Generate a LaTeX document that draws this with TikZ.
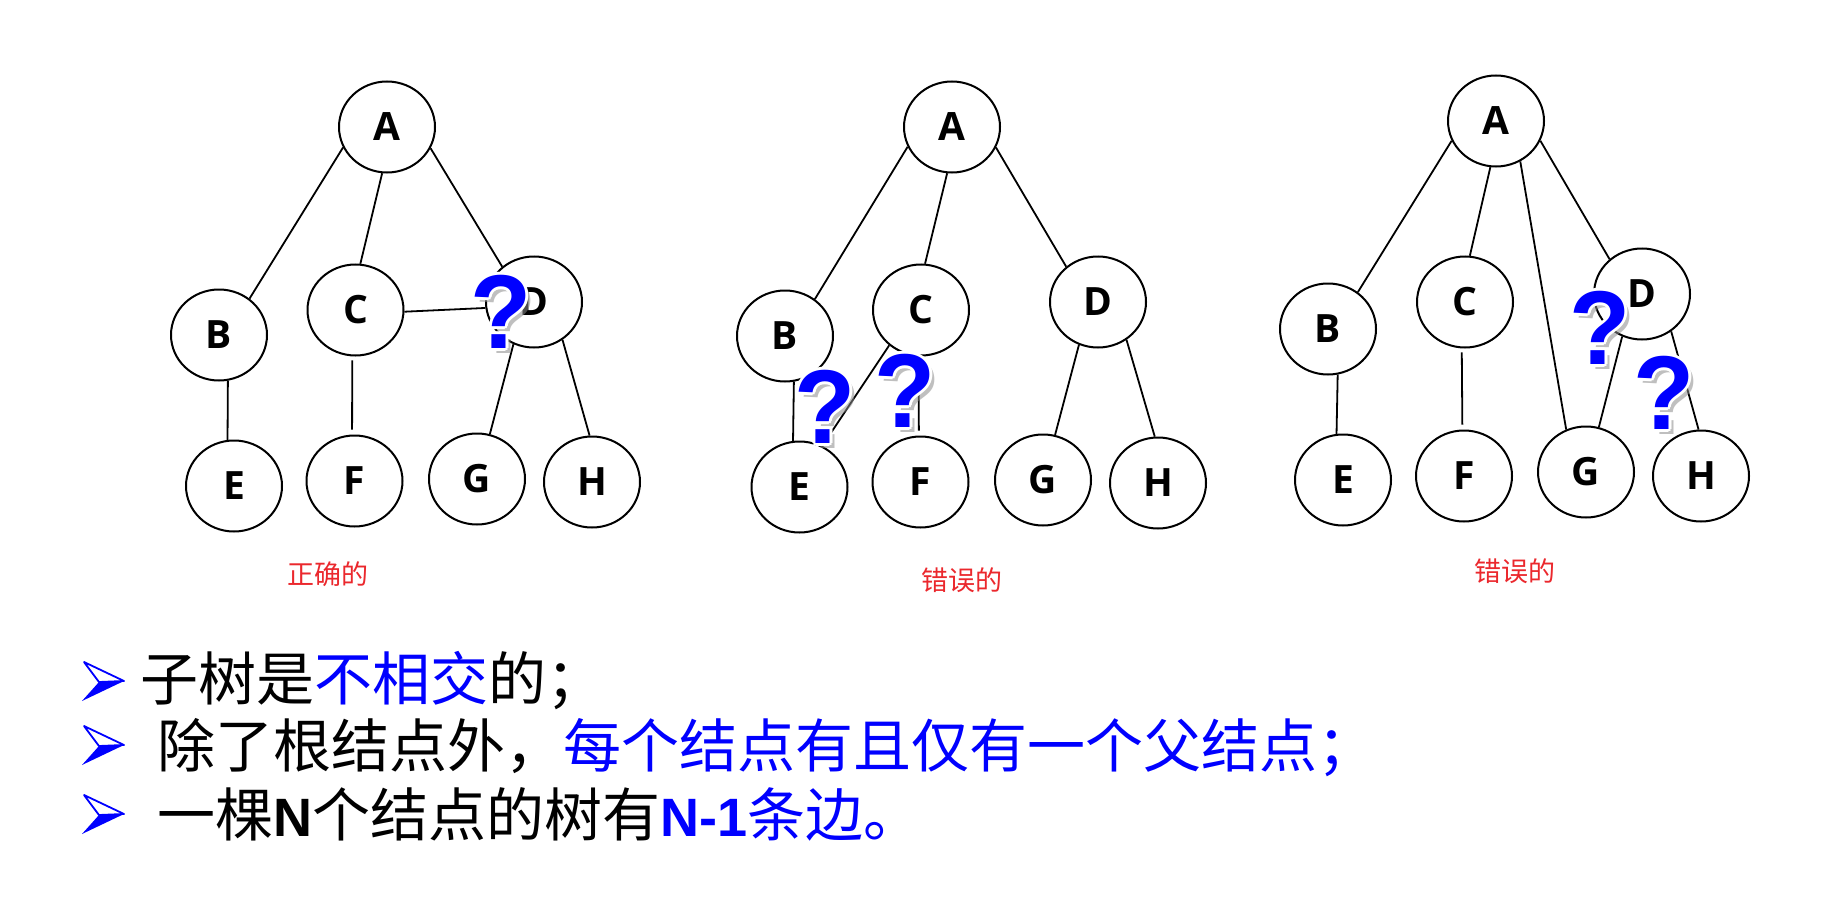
\documentclass[tikz,border=0pt]{standalone}
\usepackage{fontspec}
\usetikzlibrary{shapes.geometric}
\newfontfamily\lettfont{Open Sans}
\newfontfamily\cjk{Noto Sans CJK SC}
\newfontfamily\arialf{Liberation Sans}
\definecolor{qblue}{RGB}{0,0,255}
\definecolor{lblred}{RGB}{235,40,45}
\tikzset{
  tnode/.style={ellipse, draw=black, line width=2pt, fill=white,
    minimum width=96pt, minimum height=91pt, inner sep=0pt,
    font=\lettfont\bfseries\fontsize{39}{41}\selectfont},
  edge/.style={line width=1.8pt, draw=black},
  gapedge/.style={edge, shorten <=4pt, shorten >=5pt},
  qglyph/.style={font=\arialf\bfseries\fontsize{100}{105}\selectfont, inner sep=0pt, yscale=1.05},
  lbl/.style={font=\cjk\fontsize{27}{30}\selectfont, text=lblred, inner sep=0pt},
  txtline/.style={font=\cjk\fontsize{58}{64}\selectfont, anchor=base west, inner sep=0pt},
}
\newcommand\qmark[3]{%
  \node[qglyph, text=black!45, opacity=0.55] (#1s) at (#2+5,#3+5) {?};
  \foreach \dx/\dy [count=\i] in {3/0,-3/0,0/3,0/-3,2.1/2.1,-2.1/2.1,2.1/-2.1,-2.1/-2.1}
    \node[qglyph, text=white] (#1w\i) at (#2+\dx,#3+\dy) {?};
  \node[qglyph, text=qblue] (#1) at (#2,#3) {?};
}
\newcommand\bulletmark[1]{%
  \fill[qblue] (99,#1+1) -- (124,#1) -- (82,#1+20) -- cycle;
  \filldraw[fill=white, draw=qblue, line width=1.8pt, line join=round] (84,#1-19) -- (124,#1) -- (99,#1+1) -- cycle;
}
\begin{document}
\begin{tikzpicture}[x=1pt,y=-1pt]
\useasboundingbox (0,0) rectangle (1834,915);
\fill[white] (0,0) rectangle (1834,915);

% ---------- tree 1 ----------
\node[tnode] (a1) at (387,127) {A};
\node[tnode] (b1) at (219,335) {B};
\node[tnode] (c1) at (355.5,310) {C};
\node[tnode] (d1) at (534,302) {D};
\node[tnode] (e1) at (234,486) {E};
\node[tnode] (f1) at (354.5,481) {F};
\node[tnode] (g1) at (477,479) {G};
\node[tnode] (h1) at (592,482) {H};
\draw[edge] (a1.205) -- (b1.50);
\draw[edge] (a1.264) -- (c1.84);
\draw[edge] (a1.334) -- (d1.132);
\draw[edge] (c1.358) -- (d1.187);
\draw[edge] (b1.281) -- (e1.98);
\draw[gapedge] (c1.266) -- (f1.93);
\draw[edge] (d1.244) -- (g1.74);
\draw[edge] (d1.307) -- (h1.93);
\qmark{q1}{501}{312}
\node[lbl] (l1) at (327.5,574) {正确的};

% ---------- tree 2 ----------
\node[tnode] (a2) at (952,127) {A};
\node[tnode] (b2) at (785,336) {B};
\node[tnode] (c2) at (921,310) {C};
\node[tnode] (d2) at (1098,302) {D};
\node[tnode] (e2) at (799.5,487) {E};
\node[tnode] (f2) at (920.5,482) {F};
\node[tnode] (g2) at (1043,480) {G};
\node[tnode] (h2) at (1158,483) {H};
\draw[edge] (a2.204) -- (b2.51);
\draw[edge] (a2.264) -- (c2.85);
\draw[edge] (a2.335) -- (d2.132);
\draw[edge] (b2.281) -- (e2.98);
\draw[edge] (c2.228) -- (e2.61);
\draw[gapedge] (c2.267) -- (f2.92);
\draw[edge] (d2.246) -- (g2.75);
\draw[edge] (d2.307) -- (h2.94);
\qmark{q2}{825}{407}
\qmark{q3}{905}{391}
\node[lbl] (l2) at (962,580) {错误的};

% ---------- tree 3 ----------
\node[tnode] (a3) at (1496,121) {A};
\node[tnode] (b3) at (1328,329) {B};
\node[tnode] (c3) at (1465,302) {C};
\node[tnode] (d3) at (1642,294) {D};
\node[tnode] (e3) at (1343,480) {E};
\node[tnode] (f3) at (1464,476) {F};
\node[tnode] (g3) at (1586,472) {G};
\node[tnode] (h3) at (1701,476) {H};
\draw[edge] (a3.204) -- (b3.51);
\draw[edge] (a3.263) -- (c3.84);
\draw[edge] (a3.301) -- (g3.115);
\draw[edge] (a3.336) -- (d3.133);
\draw[edge] (b3.282) -- (e3.98);
\draw[gapedge] (c3.266) -- (f3.92);
\draw[edge] (d3.245) -- (g3.74);
\draw[edge] (d3.308) -- (h3.93);
\qmark{q4}{1600}{328}
\qmark{q5}{1664}{393}
\node[lbl] (l3) at (1515,571) {错误的};

% ---------- bullet lines ----------
\bulletmark{681}
\bulletmark{745}
\bulletmark{814}
\node[txtline] (t1) at (140,700) {子树是\textcolor{qblue}{不相交}的；};
\node[txtline] (t2) at (157,767) {除了根结点外，\textcolor{qblue}{每个结点有且仅有一个父结点；}};
\node[txtline] (t3) at (157,836) {一棵{\arialf\bfseries\fontsize{54}{60}\selectfont N}个结点的树有\textcolor{qblue}{{\arialf\bfseries\fontsize{54}{60}\selectfont N-1}条边。}};
\end{tikzpicture}
\end{document}
